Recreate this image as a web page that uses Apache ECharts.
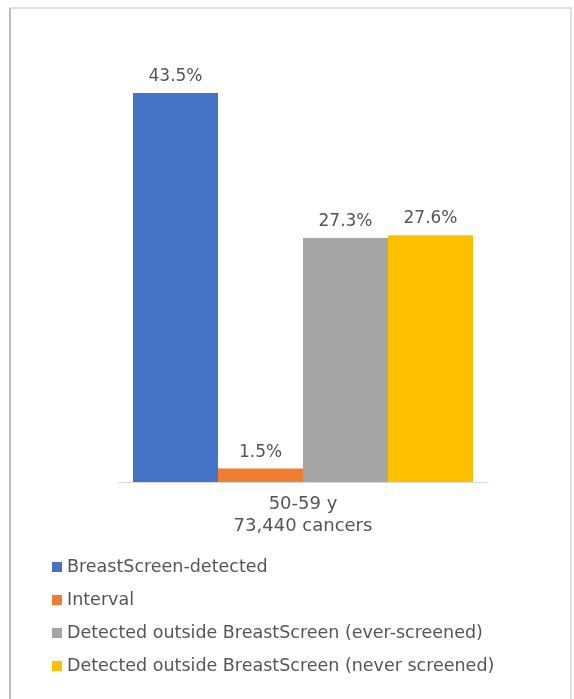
<!DOCTYPE html>
<html>
<head>
<meta charset="utf-8">
<script src="https://cdn.jsdelivr.net/npm/echarts@6/dist/echarts.min.js"></script>
<style>
  html, body { margin: 0; padding: 0; background: #fff; }
  #chart { width: 574px; height: 699px; }
</style>
</head>
<body>
<div id="chart"></div>
<script>
// Age group shown on the category axis
const categories = ['50-59 y\n73,440 cancers'];

// Share of cancers by detection route (%)
const seriesNames = [
  'BreastScreen-detected',
  'Interval',
  'Detected outside BreastScreen (ever-screened)',
  'Detected outside BreastScreen (never screened)'
];
const seriesValues = [43.5, 1.5, 27.3, 27.6];
const seriesColors = ['#4472C4', '#ED7D31', '#A5A5A5', '#FFC000'];

const font = 'DejaVu Sans';
const textColor = '#555555';

const chart = echarts.init(document.getElementById('chart'), null, { renderer: 'canvas' });

const series = seriesNames.map((name, i) => ({
  name: name,
  type: 'bar',
  data: [seriesValues[i]],
  barWidth: 85,
  barGap: '0%',
  itemStyle: { color: seriesColors[i] },
  label: {
    show: true,
    position: 'top',
    distance: 8,
    formatter: '{c}%',
    color: textColor,
    fontFamily: font,
    fontSize: 17
  }
}));

chart.setOption({
  backgroundColor: '#fff',
  animation: false,
  graphic: [
    {
      type: 'rect',
      shape: { x: 10, y: 8, width: 561, height: 700 },
      style: { fill: 'none', stroke: '#d6d6d6', lineWidth: 1.5 },
      silent: true
    },
    {
      type: 'line',
      shape: { x1: 10, y1: 8, x2: 10, y2: 699 },
      style: { stroke: '#bdbdbd', lineWidth: 2 },
      silent: true
    }
  ],
  grid: { left: 118, right: 86, top: 35, bottom: 217 },
  xAxis: {
    type: 'category',
    data: categories,
    axisLine: { lineStyle: { color: '#d9d9d9', width: 1 } },
    axisTick: { show: false },
    axisLabel: {
      color: textColor,
      fontFamily: font,
      fontSize: 18,
      lineHeight: 22,
      margin: 11
    }
  },
  yAxis: {
    type: 'value',
    min: 0,
    max: 50,
    show: false,
    splitLine: { show: false }
  },
  legend: {
    orient: 'vertical',
    left: 47,
    top: 552,
    itemWidth: 10,
    itemHeight: 10,
    itemGap: 13,
    icon: 'rect',
    textStyle: {
      color: textColor,
      fontFamily: font,
      fontSize: 17.5,
      lineHeight: 20
    },
    data: seriesNames
  },
  series: series
});
</script>
</body>
</html>
